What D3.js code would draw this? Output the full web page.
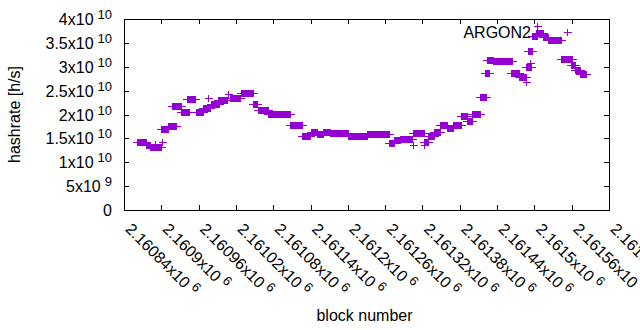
<!DOCTYPE html>
<html>
<head>
<meta charset="utf-8">
<script src="https://cdn.jsdelivr.net/npm/d3@7"></script>
<style>
body { margin: 0; background: #fff; }
svg { display: block; font-family: "Liberation Sans", Arial, sans-serif; }
</style>
</head>
<body>
<svg width="640" height="330"></svg>
<script>

// runs of consecutive blocks that share the same hashrate estimate
var runFrom = [2160861, 2160875, 2160882, 2160900, 2160911, 2160917, 2160932, 2160941, 2160956, 2160967,
               2160980, 2160991, 2161010, 2161028, 2161047, 2161055, 2161072, 2161107, 2161126, 2161141,
               2161150, 2161160, 2161171, 2161200, 2161231, 2161266, 2161274, 2161284, 2161305, 2161322,
               2161329, 2161339, 2161348, 2161359, 2161369, 2161382, 2161392, 2161400, 2161412, 2161421,
               2161424, 2161433, 2161462, 2161475, 2161486, 2161490, 2161496, 2161503, 2161514, 2161522,
               2161543, 2161559, 2161565, 2161573];
var runTo   = [2160875, 2160882, 2160900, 2160911, 2160924, 2160932, 2160945, 2160954, 2160967, 2160978,
               2160993, 2161006, 2161027, 2161047, 2161054, 2161072, 2161107, 2161126, 2161139, 2161150,
               2161160, 2161171, 2161200, 2161231, 2161266, 2161274, 2161284, 2161303, 2161322, 2161329,
               2161339, 2161348, 2161359, 2161369, 2161382, 2161392, 2161400, 2161412, 2161422, 2161427,
               2161433, 2161464, 2161475, 2161486, 2161494, 2161496, 2161504, 2161514, 2161522, 2161543,
               2161560, 2161565, 2161573, 2161583];
var runRate = [1.42e10, 1.36e10, 1.31e10, 1.70e10, 1.76e10, 2.18e10, 2.05e10, 2.32e10, 2.05e10, 2.14e10,
               2.22e10, 2.30e10, 2.35e10, 2.44e10, 2.22e10, 2.09e10, 2.01e10, 1.78e10, 1.55e10, 1.63e10,
               1.59e10, 1.64e10, 1.62e10, 1.56e10, 1.60e10, 1.40e10, 1.47e10, 1.48e10, 1.62e10, 1.43e10,
               1.56e10, 1.64e10, 1.78e10, 1.72e10, 1.78e10, 1.96e10, 1.86e10, 2.01e10, 2.36e10, 2.86e10,
               3.14e10, 3.12e10, 2.86e10, 2.79e10, 3.00e10, 3.32e10, 3.65e10, 3.70e10, 3.63e10, 3.56e10,
               3.17e10, 3.04e10, 2.93e10, 2.85e10];

// single blocks that stick out
var loneBlock = [2160890, 2160901, 2160975, 2161007, 2161305, 2161322, 2161486, 2161493, 2161504];
var loneRate  = [1.38e10, 1.42e10, 2.35e10, 2.43e10, 1.36e10, 1.36e10, 2.69e10, 3.08e10, 3.85e10];

var xTicks = [2160840, 2160900, 2160960, 2161020, 2161080, 2161140, 2161200,
              2161260, 2161320, 2161380, 2161440, 2161500, 2161560, 2161620];
var yTicks = [0, 5e9, 1e10, 1.5e10, 2e10, 2.5e10, 3e10, 3.5e10, 4e10];

var seriesName = "ARGON2";
var purple = "#9400d3";

var svg = d3.select("svg"),
    margin = {top: 19, right: 31, bottom: 120, left: 124},
    width = svg.attr("width") - margin.left - margin.right,
    height = svg.attr("height") - margin.top - margin.bottom;

var x = d3.scaleLinear().domain([2160840, 2161620]).range([0, width]);
var y = d3.scaleLinear().domain([0, 4e10]).range([height, 0]);

var g = svg.append("g")
    .attr("transform", "translate(" + margin.left + "," + margin.top + ")");

// mantissa x10^exp, gnuplot style
function sci(v) {
  if (v === 0) return ["0", null];
  var e = Math.floor(Math.log10(v) + 1e-9);
  var m = +(v / Math.pow(10, e)).toFixed(5);
  return [m + "x10", String(e)];
}

function label(sel, v) {
  var p = sci(v);
  sel.append("tspan").text(p[0]);
  if (p[1] !== null) {
    sel.append("tspan").attr("dx", 4).attr("dy", -6)
      .attr("font-size", "13px").text(p[1]);
  }
}

// axes with inward ticks on all four sides
function ticks(axis) {
  return axis.tickSize(-5).tickSizeOuter(0).tickFormat("");
}
var ax = g.append("g").attr("transform", "translate(0," + height + ")")
    .call(ticks(d3.axisBottom(x).tickValues(xTicks)));
g.append("g").call(ticks(d3.axisTop(x).tickValues(xTicks)));
var ay = g.append("g").call(ticks(d3.axisLeft(y).tickValues(yTicks)));
g.append("g").attr("transform", "translate(" + width + ",0)")
    .call(ticks(d3.axisRight(y).tickValues(yTicks)));
g.selectAll(".domain, .tick line").attr("stroke", "#000").attr("shape-rendering", "crispEdges");
g.selectAll(".tick text").remove();

ay.selectAll(".tick").append("text")
    .attr("x", -12).attr("dy", "0.35em")
    .attr("text-anchor", "end").attr("fill", "#000").attr("font-size", "16px")
    .each(function(d) { label(d3.select(this), d); });

ax.selectAll(".tick").append("text")
    .attr("transform", "translate(0,20) rotate(45)")
    .attr("text-anchor", "start").attr("fill", "#000").attr("font-size", "16px")
    .each(function(d) { label(d3.select(this), d); });

// axis titles
svg.append("text")
    .attr("transform", "translate(20," + (margin.top + height * 0.5) + ") rotate(-90)")
    .attr("text-anchor", "middle").attr("font-size", "16px")
    .text("hashrate [h/s]");
svg.append("text")
    .attr("x", margin.left + width / 2 - 2).attr("y", 321)
    .attr("text-anchor", "middle").attr("font-size", "16px")
    .text("block number");

var plus = "M-4,0H4M0,-3.5V3.5";

// runs: overlapping crosses merge into a bar with arms at both ends
var runs = runFrom.map(function(f, i) { return {from: f, to: runTo[i], rate: runRate[i]}; });
var rg = g.append("g").attr("shape-rendering", "crispEdges");
rg.selectAll("rect").data(runs).enter().append("rect")
    .attr("x", d => Math.round(x(d.from)))
    .attr("width", d => Math.max(1, Math.round(x(d.to)) - Math.round(x(d.from)) + 1))
    .attr("y", d => Math.round(y(d.rate)) - 3)
    .attr("height", 7)
    .attr("fill", purple);
rg.selectAll("line").data(runs).enter().append("line")
    .attr("x1", d => Math.round(x(d.from)) - 4)
    .attr("x2", d => Math.round(x(d.to)) + 5)
    .attr("y1", d => Math.round(y(d.rate)) + 0.5)
    .attr("y2", d => Math.round(y(d.rate)) + 0.5)
    .attr("stroke", purple);

var lone = loneBlock.map(function(b, i) { return {block: b, rate: loneRate[i]}; });
g.append("g").selectAll("path").data(lone).enter().append("path")
    .attr("transform", d => "translate(" + (Math.round(x(d.block)) + 0.5) + "," + (Math.round(y(d.rate)) + 0.5) + ")")
    .attr("d", plus)
    .attr("fill", "none").attr("stroke", purple).attr("shape-rendering", "crispEdges");

// key
g.append("text")
    .attr("x", 407).attr("y", 18.5)
    .attr("text-anchor", "end").attr("font-size", "16px")
    .text(seriesName);
g.append("path")
    .attr("transform", "translate(443.5,13.5)")
    .attr("d", plus)
    .attr("fill", "none").attr("stroke", purple).attr("shape-rendering", "crispEdges");

</script>
</body>
</html>
